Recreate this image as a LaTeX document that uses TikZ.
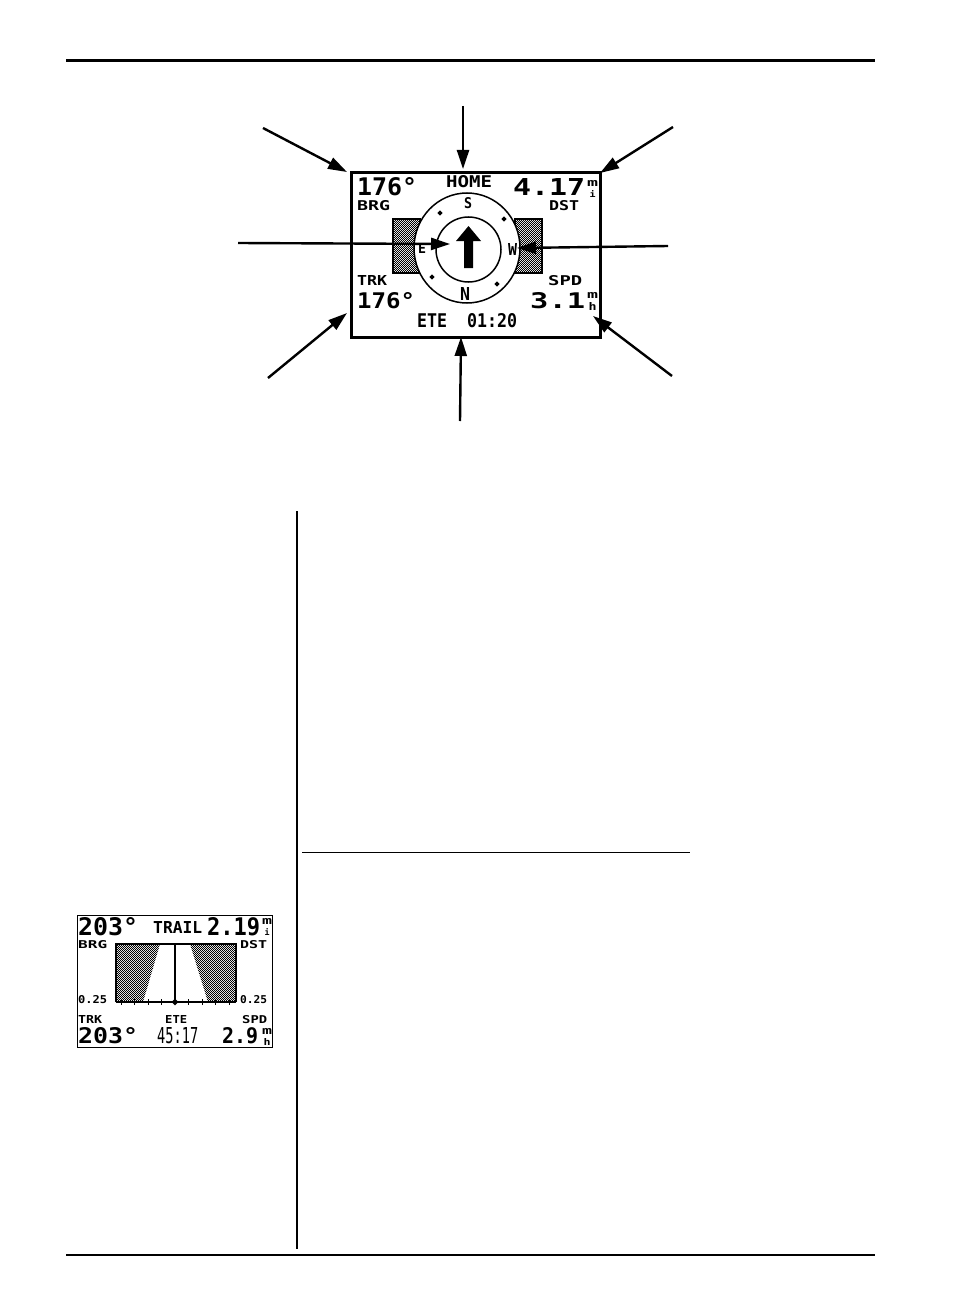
\documentclass[tikz,border=0pt]{standalone}
\usepackage{fontspec}
\usepackage{graphicx}
\usetikzlibrary{arrows.meta,patterns,shapes.geometric}
\newfontfamily\lcdfont{DejaVu Sans Mono}
\newcommand\lcdB[3]{\resizebox{#1pt}{#2pt}{\lcdfont\bfseries #3}}
\newcommand\lcdN[3]{\resizebox{#1pt}{#2pt}{\lcdfont #3}}
\pgfdeclarepatternformonly{lcdcheck}{\pgfpointorigin}{\pgfpoint{2.4pt}{2.4pt}}{\pgfpoint{2.4pt}{2.4pt}}{%
  \pgfpathrectangle{\pgfpointorigin}{\pgfpoint{1.2pt}{1.2pt}}%
  \pgfpathrectangle{\pgfpoint{1.2pt}{1.2pt}}{\pgfpoint{1.2pt}{1.2pt}}%
  \pgfusepath{fill}}
\begin{document}
\begin{tikzpicture}[x=1pt,y=-1pt,
  lcd/.style={inner sep=0pt, anchor=north west},
  unit/.style={inner sep=0pt, anchor=north west, align=center, font=\lineskiplimit=-10pt},
  callout/.style={line width=2.4pt, -{Triangle[length=19pt,width=12pt]}},
  checker/.style={pattern=lcdcheck, draw=black, line width=1.2pt},
  marker/.style={fill=black, inner sep=0pt, minimum size=5.5pt, diamond},
  tick/.style={line width=0.9pt}]
\useasboundingbox (0,0) rectangle (954,1316);

% page rules
\draw[line width=3pt] (66,61) -- (875,61);
\draw[line width=2.5pt] (66,1255) -- (875,1255);
\draw[line width=2pt] (297,511) -- (297,1249);
\draw[line width=1pt] (302,852) -- (690,852);

% ===== main display =====
\node[draw, line width=3.2pt, minimum width=249pt, minimum height=165pt,
      anchor=north west, inner sep=0pt] (disp) at (350,171) {};
% checkered side bars
\path[checker] (393,219) rectangle (420,273);
\path[checker] (515,219) rectangle (542,273);
% compass rings
\fill[white] (467,248) ellipse [x radius=53, y radius=55];
\draw[line width=1.5pt] (467,248) ellipse [x radius=53, y radius=55];
\draw[line width=1.5pt] (468.5,249.5) circle [radius=32.5];
% markers
\node[marker] (m1) at (440,213) {};
\node[marker] (m2) at (504,219) {};
\node[marker] (m3) at (432,277) {};
\node[marker] (m4) at (497,284) {};
% heading arrow
\fill (468.5,226) -- (481,241) -- (473,241) -- (473,268) -- (464,268) -- (464,241) -- (456,241) -- cycle;
% compass letters
\node[lcd] (cS) at (464,197) {\lcdB{8}{11}{S}};
\node[lcd] (cE) at (418,243) {\lcdB{8}{10}{E}};
\node[lcd] (cW) at (508,243) {\lcdB{9}{12}{W}};
\node[lcd] (cN) at (460,287) {\lcdB{10}{13}{N}};
% texts
\node[lcd] (brgv) at (357,177) {\lcdB{60}{18}{176°}};
\node[lcd] (home) at (446,175) {\lcdB{46}{12}{HOME}};
\node[lcd] (dstv) at (513,178) {\lcdB{72}{17}{4.17}};
\node[lcd] (dstu) at (587,180) {\shortstack{\lcdB{11}{6}{m}\\[1.5pt]\lcdB{6}{7}{i}}};
\node[lcd] (brgl) at (357,200) {\lcdB{33}{10}{BRG}};
\node[lcd] (dstl) at (549,200) {\lcdB{30}{10}{DST}};
\node[lcd] (trkl) at (357,275) {\lcdB{30}{10}{TRK}};
\node[lcd] (spdl) at (548,275) {\lcdB{34}{10}{SPD}};
\node[lcd] (trkv) at (357,292) {\lcdB{58}{16}{176°}};
\node[lcd] (spdv) at (530,292) {\lcdB{55}{16}{3.1}};
\node[lcd] (spdu) at (587,292) {\shortstack{\lcdB{11}{6}{m}\\[1.5pt]\lcdB{8}{8}{h}}};
\node[lcd] (ete) at (417,313) {\lcdB{100}{14}{ETE\ \ 01:20}};

% callout arrows
\coordinate (tl0) at (263,128); \coordinate (tl1) at (347,172);
\coordinate (t0) at (463,106);  \coordinate (t1) at (463,169);
\coordinate (tr0) at (673,127); \coordinate (tr1) at (600,173);
\coordinate (l0) at (238,243);  \coordinate (l1) at (450,244);
\coordinate (r0) at (668,246);  \coordinate (r1) at (517,248);
\coordinate (bl0) at (268,378); \coordinate (bl1) at (347,313);
\coordinate (b0) at (460,421);  \coordinate (b1) at (461,337);
\coordinate (br0) at (672,376); \coordinate (br1) at (593,316);
\draw[callout] (tl0) -- (tl1);
\draw[callout] (t0) -- (t1);
\draw[callout] (tr0) -- (tr1);
\draw[callout] (l0) -- (l1);
\draw[callout] (r0) -- (r1);
\draw[callout] (bl0) -- (bl1);
\draw[callout] (b0) -- (b1);
\draw[callout] (br0) -- (br1);

% ===== small trail display =====
\node[draw, line width=0.8pt, minimum width=195pt, minimum height=132pt,
      anchor=north west, inner sep=0pt] (sdisp) at (77,915) {};
\path[pattern=lcdcheck] (116,944) -- (160,944) -- (143,1002) -- (116,1002) -- cycle;
\path[pattern=lcdcheck] (190,944) -- (236,944) -- (236,1002) -- (208,1002) -- cycle;
\draw[line width=1.2pt] (116,1002) -- (116,944) -- (236,944) -- (236,1002);
\draw[line width=1.2pt] (116,1002) -- (236,1002);
\draw[line width=1.2pt] (175,944) -- (175,1002);
\foreach \k in {1,2,3,4} {
  \draw[tick] ({175-13.5*\k},999) -- ({175-13.5*\k},1005);
  \draw[tick] ({175+13.5*\k},999) -- ({175+13.5*\k},1005);
}
\node[marker, minimum size=7pt] (sd) at (175,1002) {};
\node[lcd] (s1) at (78,917) {\lcdB{60}{18}{203°}};
\node[lcd] (s2) at (153,921) {\lcdB{49}{12}{TRAIL}};
\node[lcd] (s3) at (207,917) {\lcdB{53}{18}{2.19}};
\node[lcd] (s3u) at (262,918) {\shortstack{\lcdB{10}{6}{m}\\[1.5pt]\lcdB{5}{7}{i}}};
\node[lcd] (s4) at (78,940) {\lcdB{29}{8}{BRG}};
\node[lcd] (s5) at (240,940) {\lcdB{27}{8}{DST}};
\node[lcd] (s6) at (78,995) {\lcdB{29}{8}{0.25}};
\node[lcd] (s7) at (240,995) {\lcdB{27}{8}{0.25}};
\node[lcd] (s8) at (78,1015) {\lcdB{24}{8}{TRK}};
\node[lcd] (s9) at (165,1015) {\lcdB{22}{8}{ETE}};
\node[lcd] (s10) at (242,1015) {\lcdB{25}{8}{SPD}};
\node[lcd] (s11) at (78,1027) {\lcdB{60}{16}{203°}};
\node[lcd] (s12) at (157,1027) {\lcdN{41}{16}{45:17}};
\node[lcd] (s13) at (222,1027) {\lcdB{36}{16}{2.9}};
\node[lcd] (s13u) at (262,1028) {\shortstack{\lcdB{10}{6}{m}\\[1.5pt]\lcdB{7}{7}{h}}};
\end{tikzpicture}
\end{document}
